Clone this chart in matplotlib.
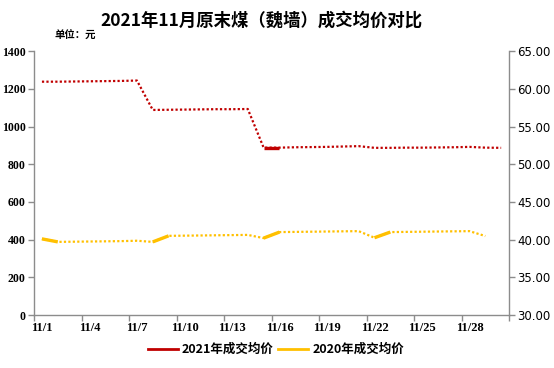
import matplotlib
matplotlib.use("Agg")
import matplotlib.pyplot as plt
from matplotlib.lines import Line2D
import numpy as np

plt.rcParams['font.family'] = ['Noto Sans CJK SC', 'DejaVu Sans']

# ---------------- DATA ----------------
days = [f"11/{d}" for d in range(1, 31)]
price_2021 = [1238, 1238, 1239, 1240, 1241, 1242, 1244,
              1088, 1089, 1090, 1091, 1092, 1092, 1093,
              888, 888, 890, 891, 892, 894, 896,
              887, 887, 888, 888, 889, 890, 892, 888, 887]
price_2020 = [404, 388, 389, 390, 391, 392, 394,
              388, 420, 421, 422, 423, 424, 425,
              408, 440, 441, 442, 443, 444, 445,
              410, 440, 441, 442, 443, 444, 445, 419]
solid_2021 = [(14, 15)]
solid_2020 = [(0, 1), (7, 8), (14, 15), (21, 22)]

RED = '#C00000'
YEL = '#FFC000'
GRAY = '#8C8C8C'

fig = plt.figure(figsize=(5.54, 3.68), dpi=100)
ax = fig.add_axes([0.0614, 0.144, 0.8575, 0.717])

x21 = np.arange(len(price_2021))
x20 = np.arange(len(price_2020))

def draw(x, y, color, solids):
    ax.plot(x, y, color=color, lw=1.6, linestyle=(0, (1, 1)))
    for a, b in solids:
        ax.plot(x[a:b + 1], y[a:b + 1], color=color, lw=2.4, solid_capstyle='butt')

draw(x21, np.array(price_2021), RED, solid_2021)
draw(x20, np.array(price_2020), YEL, solid_2020)

ax.set_xlim(-0.5, len(days) - 0.5)
ax.set_ylim(0, 1400)
ax.set_yticks(range(0, 1401, 200))

# ticks between categories, labels at category centres
ax.set_xticks(np.arange(-0.5, len(days), 3))
ax.set_xticklabels([])
ax.set_xticks(np.arange(0, len(days), 3), minor=True)
ax.set_xticklabels(days[::3], minor=True, fontsize=9, fontweight='bold',
                   family='Liberation Serif')
ax.tick_params(axis='x', which='minor', length=0, pad=5)
ax.tick_params(axis='x', which='major', length=4, color=GRAY, width=1)
ax.tick_params(axis='y', length=4, color=GRAY, width=1, pad=2)
for lbl in ax.get_yticklabels():
    lbl.set_family('Liberation Serif')
    lbl.set_fontweight('bold')
    lbl.set_fontsize(8.5)

for s in ['top', 'right']:
    ax.spines[s].set_visible(False)
for s in ['left', 'bottom']:
    ax.spines[s].set_color(GRAY)
    ax.spines[s].set_linewidth(1)

ax2 = ax.twinx()
ax2.set_ylim(30, 65)
ax2.set_yticks(np.arange(30, 66, 5))
ax2.set_yticklabels([f"{v:.2f}" for v in np.arange(30, 66, 5)],
                    fontsize=8.5, family='DejaVu Sans')
ax2.tick_params(axis='y', length=4, color=GRAY, width=1, pad=2)
for s in ['top', 'left', 'bottom']:
    ax2.spines[s].set_visible(False)
ax2.spines['right'].set_color(GRAY)
ax2.spines['right'].set_linewidth(1)

fig.text(0.472, 0.945, "2021年11月原末煤（魏墙）成交均价对比",
         ha='center', va='center', fontsize=12.5, fontweight='bold')
fig.text(0.099, 0.903, "单位：元", ha='left', va='center', fontsize=7.5,
         fontweight='bold')

handles = [Line2D([], [], color=RED, lw=2), Line2D([], [], color=YEL, lw=2)]
fig.legend(handles, ["2021年成交均价", "2020年成交均价"], loc='center',
           bbox_to_anchor=(0.498, 0.05), ncol=2, frameon=False,
           prop={'size': 9, 'weight': 'bold'}, handlelength=2.4,
           handletextpad=0.3, columnspacing=0.4)

fig.savefig("out.png", dpi=100)
